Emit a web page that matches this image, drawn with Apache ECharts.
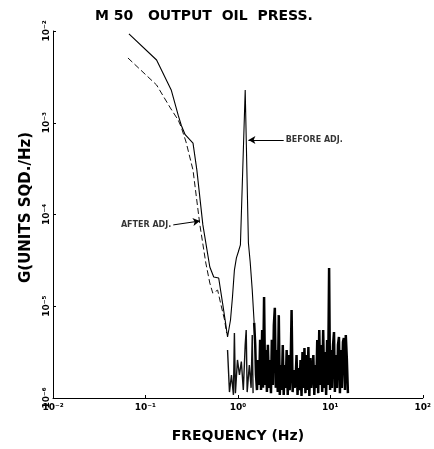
<!DOCTYPE html>
<html><head><meta charset="utf-8">
<script src="https://cdn.jsdelivr.net/npm/echarts@6/dist/echarts.min.js"></script>
<style>html,body{margin:0;padding:0;background:#fff}#c{width:434px;height:449px}</style>
</head><body><div id="c"></div>
<script>
// ---- data (Hz, G units^2/Hz) ----
const beforeX = [0.0663,0.132,0.19,0.226,0.244,0.269,0.327,0.36,0.418,0.497,0.548,0.62,0.683,0.736,0.773,0.832,0.874,0.917,0.964,1.01,1.065,1.20,1.30,1.36,1.43,1.50];
const beforeY = [9.3e-3,4.83e-3,2.28e-3,1.21e-3,9.4e-4,7.4e-4,6.0e-4,3.05e-4,7.7e-5,2.68e-5,2.08e-5,2.03e-5,1.08e-5,6.57e-6,4.62e-6,7.08e-6,1.26e-5,2.48e-5,3.36e-5,3.9e-5,4.66e-5,2.28e-3,4.89e-5,3.0e-5,1.5e-5,6.6e-6];
const beforeNoiseX = [1.50,1.54,1.57,1.61,1.65,1.70,1.74,1.78,1.83,1.87,1.92,1.97,2.01,2.06,2.11,2.17,2.22,2.28,2.33,2.39,2.45,2.51,2.57,2.64,2.70,2.77,2.84,2.91,2.98,3.06,3.13,3.21,3.29,3.37,3.46,3.54,3.63,3.72,3.81,3.91,4.01,4.11,4.21,4.31,4.42,4.53,4.64,4.76,4.88,5.00,5.12,5.25,5.38,5.51,5.65,5.79,5.93,6.08,6.23,6.39,6.55,6.71,6.88,7.05,7.22,7.40,7.59,7.78,7.97,8.17,8.37,8.58,8.79,9.01,9.23,9.46,9.70,9.94,10.2,10.4,10.7,10.96,11.2,11.5,11.8,12.1,12.4,12.7,13.0,13.3,13.7,14.0,14.4,14.7,15.1,15.5];
const beforeNoiseY = [6.6e-6,3.8e-6,1.78e-6,1.22e-6,2.6e-6,1.39e-6,4.3e-6,1.22e-6,5.5e-6,1.29e-6,1.26e-5,1.39e-6,3.34e-6,1.16e-6,3.8e-6,1.29e-6,2.6e-6,1.13e-6,4.3e-6,1.39e-6,6.25e-6,9.6e-6,1.29e-6,3.34e-6,1.16e-6,8.0e-6,1.08e-6,2.29e-6,1.22e-6,3.78e-6,1.08e-6,2.29e-6,1.29e-6,3.34e-6,1.08e-6,2.94e-6,1.22e-6,2.12e-6,9.1e-6,1.16e-6,2.02e-6,1.29e-6,1.57e-6,2.94e-6,1.08e-6,2.12e-6,1.22e-6,2.6e-6,1.05e-6,3.17e-6,1.29e-6,3.51e-6,1.13e-6,2.94e-6,1.22e-6,3.6e-6,1.05e-6,2.73e-6,1.29e-6,2.02e-6,2.94e-6,1.08e-6,2.29e-6,1.29e-6,4.29e-6,1.13e-6,5.5e-6,1.39e-6,3.78e-6,1.16e-6,5.5e-6,1.29e-6,3.17e-6,1.08e-6,4.29e-6,1.39e-6,2.61e-5,1.22e-6,3.34e-6,1.29e-6,3.78e-6,5.24e-6,1.16e-6,2.94e-6,1.29e-6,3.78e-6,4.62e-6,1.13e-6,3.34e-6,1.29e-6,4.08e-6,4.51e-6,1.22e-6,4.86e-6,2.6e-6,1.13e-6];
const afterX = [0.0647,0.132,0.186,0.226,0.2435,0.275,0.327,0.388,0.45,0.497,0.535,0.604,0.65,0.718,0.754];
const afterY = [5.08e-3,2.58e-3,1.45e-3,1.07e-3,9.0e-4,6.17e-4,3.05e-4,7.7e-5,2.96e-5,1.79e-5,1.39e-5,1.5e-5,1.08e-5,7.08e-6,5.12e-6];
const afterNoiseX = [0.773,0.811,0.852,0.895,0.917,0.94,0.99,1.04,1.09,1.145,1.20,1.23,1.26,1.33,1.39,1.43,1.46];
const afterNoiseY = [3.34e-6,1.16e-6,1.78e-6,1.08e-6,5.1e-6,1.13e-6,2.6e-6,1.78e-6,2.5e-6,1.22e-6,3.78e-6,5.5e-6,1.16e-6,2.29e-6,1.29e-6,4.86e-6,1.13e-6];

// ---- tick labels ----
const xExp = [-2,-1,0,1,2];
const xTickLabels = ['10⁻²','10⁻¹','10⁰','10¹','10²'];
const yExp = [-6,-5,-4,-3,-2];
const yTickLabels = ['10⁻⁶','10⁻⁵','10⁻⁴','10⁻³','10⁻²'];

// ---- annotations ----
const annotTexts = ['BEFORE ADJ.','AFTER ADJ.'];
const annotFromX = [3.13, 0.2];
const annotFromY = [6.5e-4, 7.7e-5];
const annotToX = [1.30, 0.388];
const annotToY = [6.5e-4, 8.5e-5];
const annotLabelPos = ['right','left'];

const FONT = 'DejaVu Sans';
const zip = (a,b)=>a.map((v,i)=>[v,b[i]]);

const chart = echarts.init(document.getElementById('c'), null, {renderer:'canvas'});
chart.setOption({
  animation:false,
  backgroundColor:'#fff',
  title:{text:'M 50   OUTPUT  OIL  PRESS.', left:95, top:9, padding:0,
    textStyle:{fontFamily:FONT, fontWeight:'bold', fontSize:14, color:'#000'}},
  grid:{left:53, right:6, top:31, bottom:51},
  xAxis:{type:'log', logBase:10, min:0.01, max:100, splitNumber:4,
    axisLine:{show:true, onZero:false, lineStyle:{color:'#000', width:1}},
    axisTick:{show:true, inside:true, length:3, lineStyle:{color:'#000'}},
    minorTick:{show:false}, splitLine:{show:false},
    axisLabel:{margin:5, fontFamily:FONT, fontWeight:'bold', fontSize:9, color:'#000',
      formatter:v=>{const i=xExp.indexOf(Math.round(Math.log10(v)));return i<0?'':xTickLabels[i];}},
    name:'FREQUENCY (Hz)', nameLocation:'middle', nameGap:31,
    nameTextStyle:{fontFamily:FONT, fontWeight:'bold', fontSize:14, color:'#000'}},
  yAxis:{type:'log', logBase:10, min:1e-6, max:1e-2, splitNumber:4,
    axisLine:{show:true, onZero:false, lineStyle:{color:'#000', width:1}},
    axisTick:{show:true, inside:true, length:3, lineStyle:{color:'#000'}},
    minorTick:{show:false}, splitLine:{show:false},
    axisLabel:{rotate:90, margin:2, fontFamily:FONT, fontWeight:'bold', fontSize:9, color:'#000',
      formatter:v=>{const i=yExp.indexOf(Math.round(Math.log10(v)));return i<0?'':yTickLabels[i];}},
    name:'G(UNITS SQD./Hz)', nameLocation:'middle', nameGap:19, nameRotate:90,
    nameTextStyle:{fontFamily:FONT, fontWeight:'bold', fontSize:15, color:'#000', padding:[0,0,0,14]}},
  series:[
    {type:'line', name:'after', data:zip(afterX,afterY), showSymbol:false, symbol:'none',
      lineStyle:{color:'#111', width:1, type:[6,3]}},
    {type:'line', name:'afterNoise', data:zip(afterNoiseX,afterNoiseY), showSymbol:false, symbol:'none',
      lineStyle:{color:'#111', width:1.4}},
    {type:'line', name:'beforeNoise', data:zip(beforeNoiseX,beforeNoiseY), showSymbol:false, symbol:'none',
      sampling:null, lineStyle:{color:'#000', width:2.5}},
    {type:'line', name:'before', data:zip(beforeX, beforeY),
      showSymbol:false, symbol:'none', lineStyle:{color:'#000', width:1.1},
      markLine:{silent:true, symbol:['none','arrow'], symbolSize:[6,7], animation:false,
        lineStyle:{color:'#000', width:1, type:'solid'}, label:{show:false},
        data:annotTexts.map((t,i)=>[{coord:[annotFromX[i],annotFromY[i]]},{coord:[annotToX[i],annotToY[i]]}])}},
    {type:'scatter', name:'labels', symbolSize:0, silent:true,
      data:annotTexts.map((t,i)=>({value:[annotFromX[i],annotFromY[i]], name:t,
        label:{show:true, position:annotLabelPos[i], distance:2, formatter:'{b}',
          fontFamily:FONT, fontWeight:'bold', fontSize:8, color:'#000'}}))}
  ]
});
</script></body></html>
